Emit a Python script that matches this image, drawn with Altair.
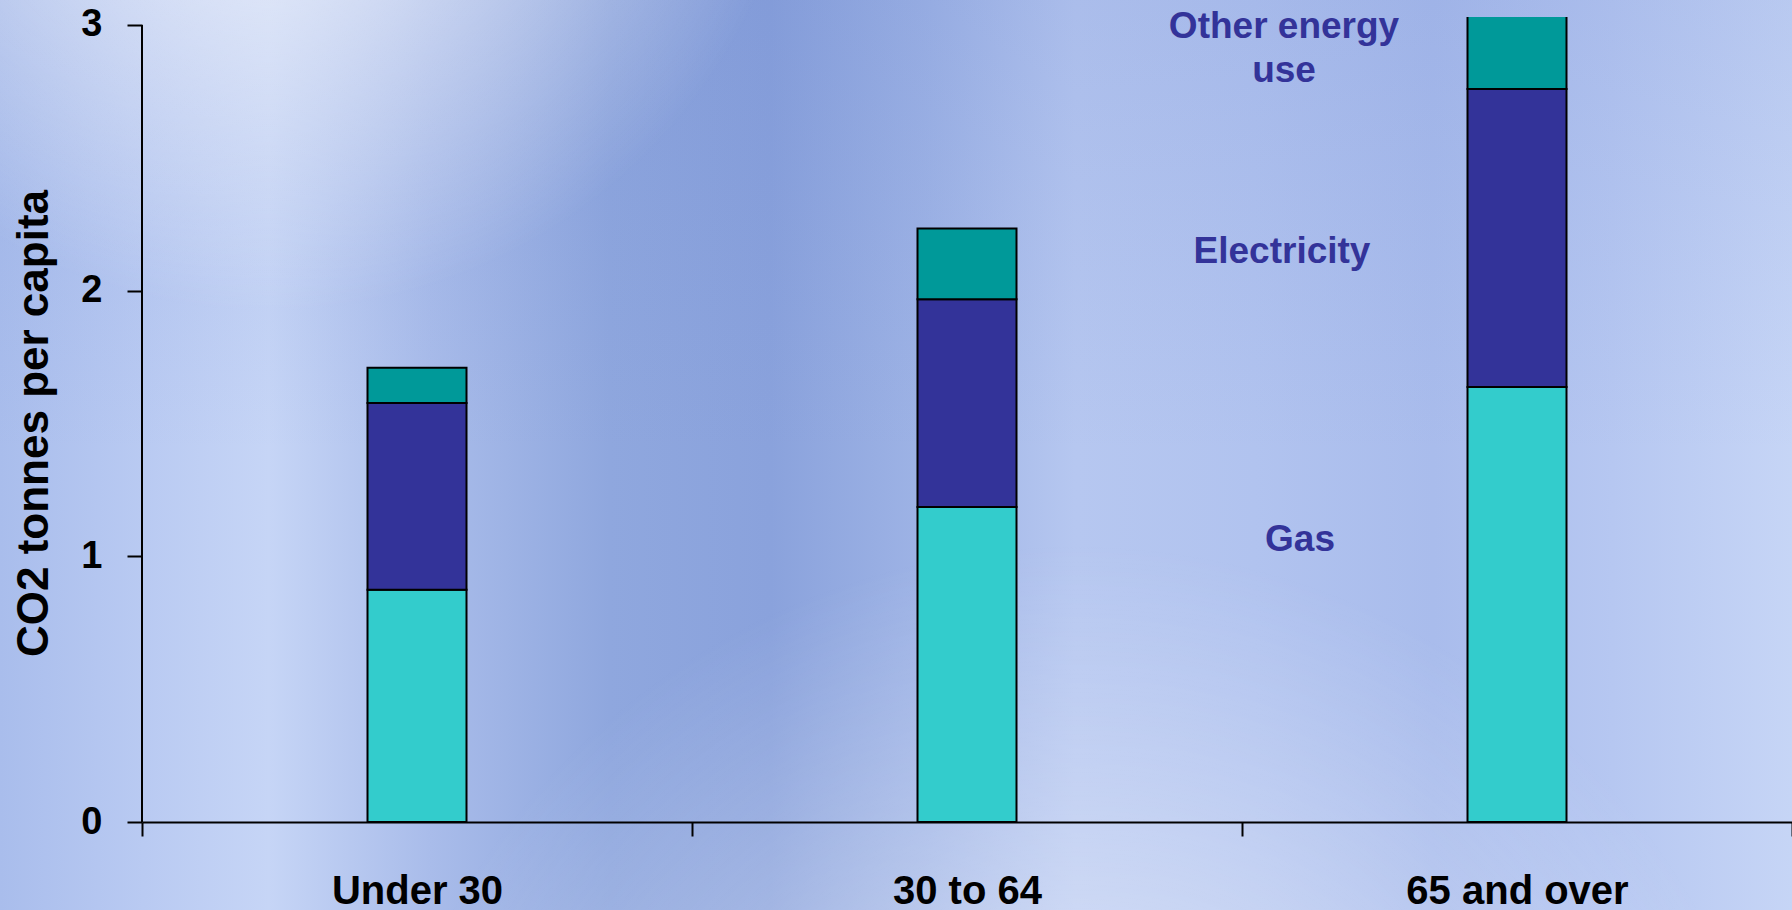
import altair as alt
import pandas as pd

groups = ["Under 30", "30 to 64", "65 and over"]
sources = ["Gas", "Electricity", "Other energy use"]
gas = [0.874, 1.186, 1.637]
electricity = [0.703, 0.782, 1.122]
other = [0.133, 0.266, 0.30]
source_colors = ["#33CCCC", "#333399", "#009999"]
y_ticks = [0, 1, 2, 3]
y_title = "CO2 tonnes per capita"
label_other = ["Other energy", "use"]
label_elec = "Electricity"
label_gas = "Gas"

rows = []
for i, g in enumerate(groups):
    for j, (s, vals) in enumerate(zip(sources, [gas, electricity, other])):
        rows.append({"group": g, "source": s, "value": vals[i], "order": j})
df = pd.DataFrame(rows)

W, H = 1650, 805
FONT = "Liberation Sans"
yscale = alt.Scale(domain=[0, 3.03], nice=False, zero=True)
xscale = alt.Scale(domain=groups, paddingInner=0, paddingOuter=0)

one = alt.Data(values=[{}])

bg_grad = alt.LinearGradient(
    gradient="linear", x1=0, y1=0, x2=1, y2=0,
    stops=[
        alt.GradientStop(offset=0.0, color="#A9BDEC"),
        alt.GradientStop(offset=0.08, color="#B9CAF2"),
        alt.GradientStop(offset=0.15, color="#C6D5F6"),
        alt.GradientStop(offset=0.24, color="#A9BCEA"),
        alt.GradientStop(offset=0.34, color="#8FA7DE"),
        alt.GradientStop(offset=0.43, color="#8AA2DC"),
        alt.GradientStop(offset=0.52, color="#9FB4E6"),
        alt.GradientStop(offset=0.60, color="#B6C7F0"),
        alt.GradientStop(offset=0.70, color="#B1C3EF"),
        alt.GradientStop(offset=0.80, color="#A9BCEC"),
        alt.GradientStop(offset=0.90, color="#B6C7F1"),
        alt.GradientStop(offset=1.0, color="#C6D5F6"),
    ],
)
glow_top = alt.RadialGradient(
    gradient="radial", x1=0.15, y1=0.12, r1=0, x2=0.15, y2=0.12, r2=0.3,
    stops=[
        alt.GradientStop(offset=0.0, color="rgba(255,255,255,0.85)"),
        alt.GradientStop(offset=1.0, color="rgba(255,255,255,0)"),
    ],
)
glow = alt.RadialGradient(
    gradient="radial", x1=0.6, y1=0.95, r1=0, x2=0.6, y2=0.95, r2=0.4,
    stops=[
        alt.GradientStop(offset=0.0, color="rgba(255,255,255,0.6)"),
        alt.GradientStop(offset=1.0, color="rgba(255,255,255,0)"),
    ],
)
shade = alt.LinearGradient(
    gradient="linear", x1=0, y1=0, x2=0, y2=1,
    stops=[
        alt.GradientStop(offset=0.0, color="rgba(70,100,190,0.10)"),
        alt.GradientStop(offset=0.5, color="rgba(70,100,190,0)"),
    ],
)

def bg_layer(fill):
    return alt.Chart(one).mark_rect(fill=fill).encode(
        x=alt.value(-142), x2=alt.value(W), y=alt.value(-17), y2=alt.value(910 - 17)
    )

bars = alt.Chart(df).mark_bar(
    width=alt.RelativeBandSize(band=0.18), stroke="black", strokeWidth=2, clip=True
).encode(
    x=alt.X(
        "group:N", scale=xscale, sort=groups,
        axis=alt.Axis(
            title=None, tickBand="extent", labelAngle=0, labelFont=FONT,
            labelFontSize=40, labelFontWeight="bold", labelColor="black",
            labelBaseline="alphabetic", labelPadding=67, labelLimit=600,
            tickSize=14, tickWidth=2,
            tickColor="black", domainColor="black", domainWidth=2, grid=False, zindex=1,
        ),
    ),
    y=alt.Y(
        "value:Q", stack="zero", scale=yscale, title=y_title,
        axis=alt.Axis(
            title=y_title, values=y_ticks, domain=False, grid=False, format="d",
            labelFont=FONT, labelFontSize=38, labelFontWeight="bold", labelColor="black",
            labelPadding=25, tickSize=15, tickWidth=2, tickColor="black",
            titleFont=FONT, titleFontSize=44, titleFontWeight="bold", titleColor="black",
            titleAngle=270, titleX=-95, titleY=406, titleBaseline="alphabetic",
            titleAlign="center", zindex=1,
        ),
    ),
    color=alt.Color("source:N", scale=alt.Scale(domain=sources, range=source_colors), legend=None),
    order=alt.Order("order:Q"),
)

yaxis_line = alt.Chart(one).mark_rule(color="black", strokeWidth=2).encode(
    x=alt.value(0),
    y=alt.Y(datum=y_ticks[0], title=y_title),
    y2=alt.Y2(datum=y_ticks[-1]),
)

def label(text, xpix, yval):
    return alt.Chart(one).mark_text(
        align="center", baseline="alphabetic", font=FONT, fontSize=37,
        fontWeight="bold", color="#333399", lineHeight=44,
    ).encode(x=alt.value(xpix), y=alt.Y(datum=yval, title=y_title), text=alt.value(text))

chart = alt.layer(
    bg_layer(bg_grad), bg_layer(shade), bg_layer(glow_top), bg_layer(glow),
    bars, yaxis_line,
    label(label_other, 1142, 2.951),
    label(label_elec, 1140, 2.104),
    label(label_gas, 1158, 1.021),
).properties(
    width=W, height=H,
    padding={"left": 142, "top": 17, "right": 0, "bottom": 88},
    autosize=alt.AutoSizeParams(type="none"),
    background="#A9BCEC",
).configure_view(stroke=None)

chart.save("out.html", embed_options={"renderer": "svg", "actions": False})
